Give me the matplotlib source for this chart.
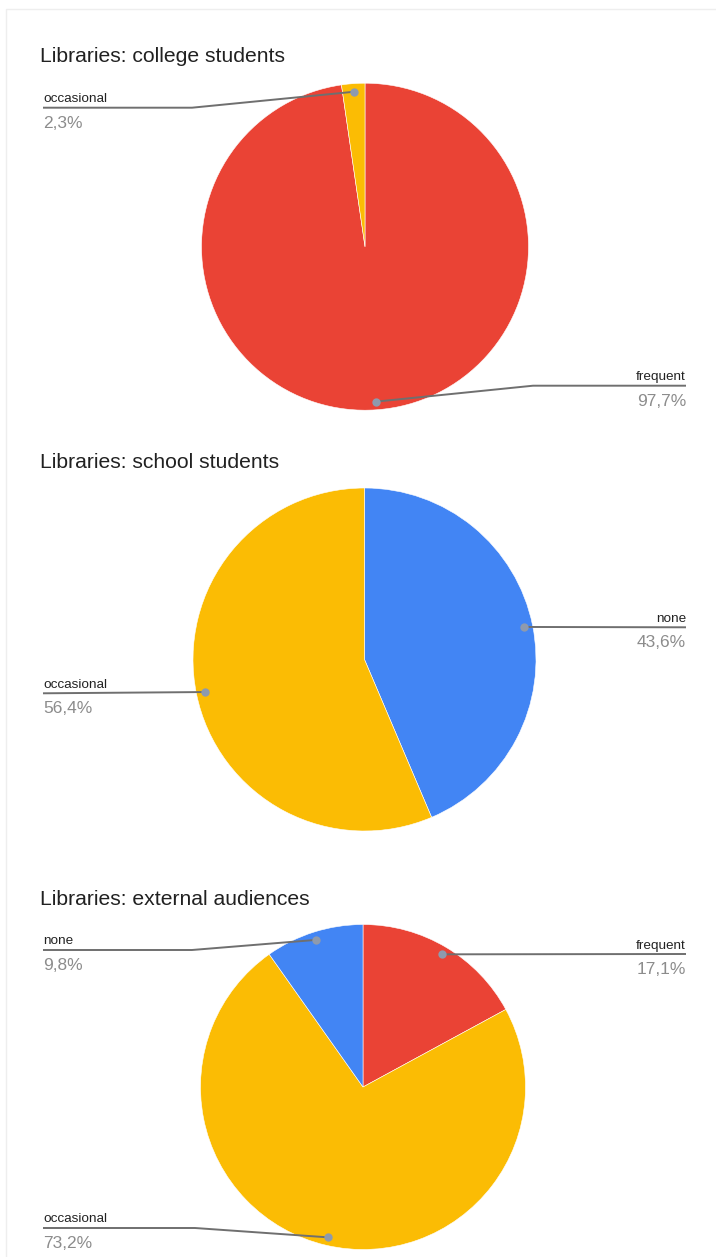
import numpy as np
import matplotlib
matplotlib.use("Agg")
import matplotlib.pyplot as plt

plt.rcParams['font.family'] = ['Liberation Sans', 'DejaVu Sans']

W, H = 716, 1257

# ---- data ----
titles = ["Libraries: college students",
          "Libraries: school students",
          "Libraries: external audiences"]
labels_college = ["frequent", "occasional"]
values_college = [97.7, 2.3]
labels_school = ["none", "occasional"]
values_school = [43.6, 56.4]
labels_external = ["frequent", "occasional", "none"]
values_external = [17.1, 73.2, 9.8]

colors_map = {"frequent": "#EA4335", "occasional": "#FBBC04", "none": "#4285F4"}

# ---- layout (pixel coords, y downward) ----
centers = [(365, 246.7), (364.5, 659.5), (363, 1087)]
radii = [163.5, 171.5, 162.5]
title_y = [62.3, 468, 905]
# per-label: (side, line_y, bend_x)
leaders = [
    {"frequent": ("right", 385.7, 533), "occasional": ("left", 107.7, 192)},
    {"none": ("right", 627.3, None), "occasional": ("left", 693.3, None)},
    {"frequent": ("right", 954, None), "none": ("left", 950, 192),
     "occasional": ("left", 1228, 195)},
]

LEFT_X, RIGHT_X = 43, 686

fig = plt.figure(figsize=(W / 100, H / 100), dpi=100)
ax = fig.add_axes([0, 0, 1, 1])


def Y(y):
    return H - y


datasets = [(labels_college, values_college),
            (labels_school, values_school),
            (labels_external, values_external)]

for i, (labs, vals) in enumerate(datasets):
    cx, cy = centers[i]
    R = radii[i]
    ax.pie(vals, colors=[colors_map[l] for l in labs], startangle=90,
           counterclock=False, center=(cx, Y(cy)), radius=R,
           wedgeprops=dict(edgecolor='white', linewidth=0.4))
    ax.text(40, Y(title_y[i]), titles[i], fontsize=15.2, color='#212121',
            ha='left', va='baseline')
    total = sum(vals)
    cum = 0.0
    for lab, v in zip(labs, vals):
        mid = 90 - 360 * (cum + v / 2) / total
        cum += v
        th = np.deg2rad(mid)
        dx = cx + 0.95 * R * np.cos(th)
        dy = cy - 0.95 * R * np.sin(th)
        side, ly, bx = leaders[i][lab]
        tx = LEFT_X if side == 'left' else RIGHT_X
        if bx is None:
            xs = [tx, dx]
            ys = [ly, dy]
        else:
            xs = [tx, bx, dx]
            ys = [ly, ly, dy]
        ax.plot(xs, [Y(y) for y in ys], color='#6f6f6f', lw=1.4,
                solid_capstyle='butt', zorder=5)
        ax.plot([dx], [Y(dy)], 'o', ms=6, color='#8e9aad', zorder=6,
                markeredgewidth=0)
        ha = 'left' if side == 'left' else 'right'
        ax.text(tx, Y(ly - 5.5), lab, fontsize=9.7, color='#222222',
                ha=ha, va='baseline')
        pct = f"{v:.1f}%".replace('.', ',')
        ax.text(tx, Y(ly + 20), pct, fontsize=12.5, color='#8c8c8c',
                ha=ha, va='baseline')

ax.set_xlim(0, W)
ax.set_ylim(0, H)
ax.set_aspect('auto')
ax.axis('off')

# faint outer border like the reference
ax.plot([6, 6, W], [0, Y(9), Y(9)], color='#eeeeee', lw=1)

fig.savefig('out.png', dpi=100, facecolor='white')
